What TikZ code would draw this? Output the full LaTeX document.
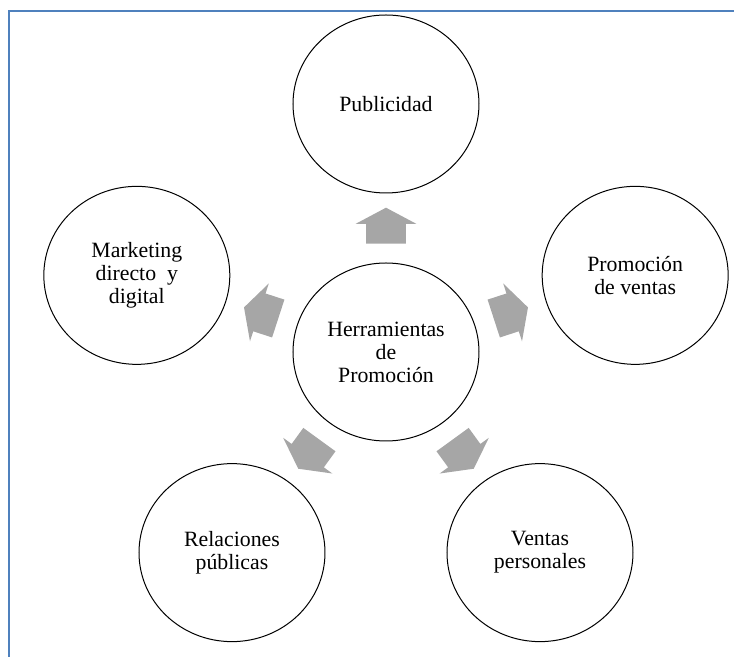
\documentclass[tikz,border=0pt]{standalone}
\usepackage{fontspec}
\setmainfont{Liberation Serif}
\usetikzlibrary{shapes.geometric, shapes.arrows, positioning}
\definecolor{frameblue}{RGB}{79,129,189}
\definecolor{arrowgray}{RGB}{166,166,166}
\tikzset{%
  % Specifications for style of nodes:
	base/.style = {draw, align=center, font=\fontsize{10.9}{11.5}\selectfont},
	tool/.style = {base, ellipse, line width=0.5pt, inner sep=0pt,
                   minimum width=93pt, minimum height=89pt},
	blockarrow/.style = {single arrow, draw=none, fill=arrowgray,
                   minimum height=18pt, inner xsep=0pt, inner ysep=9.75pt,
                   single arrow head extend=5.25pt, single arrow tip angle=124},
	frame/.style = {draw=frameblue, line width=1pt}
}

\begin{document}
\begin{tikzpicture}[
    x=0.5pt, y=0.5pt,   % one unit is one pixel of the page
]
  \useasboundingbox (-386,-305) rectangle (348,352);
  % blue page frame, top and left only
  \draw [frame] (-377,-320) -- (-377,341) -- (360,341);

  % Specification of nodes (position, etc.)
  \node (hub)   [tool] at (0,0) {Herramientas\\de\\Promoción};

  \node (pub)   [tool] at (90:262 and 248)  {Publicidad};
  \node (promo) [tool] at (18:262 and 248)  {Promoción\\de ventas};
  \node (mkt)   [tool] at (162:262 and 248) {Marketing\\directo\ \ y\\digital};
  \node (rrpp)  [tool] at (234:262 and 248) {Relaciones\\públicas};
  \node (vtas)  [tool] at (306:262 and 248) {Ventas\\personales};

  % grey block arrows, pointing away from the hub
  \node (a1) [blockarrow, rotate=90]  at (90:126 and 121)  {};
  \node (a2) [blockarrow, rotate=18]  at (18:126 and 121)  {};
  \node (a3) [blockarrow, rotate=162] at (162:126 and 121) {};
  \node (a4) [blockarrow, rotate=234] at (234:126 and 121) {};
  \node (a5) [blockarrow, rotate=306] at (306:126 and 121) {};

\end{tikzpicture}
\end{document}
